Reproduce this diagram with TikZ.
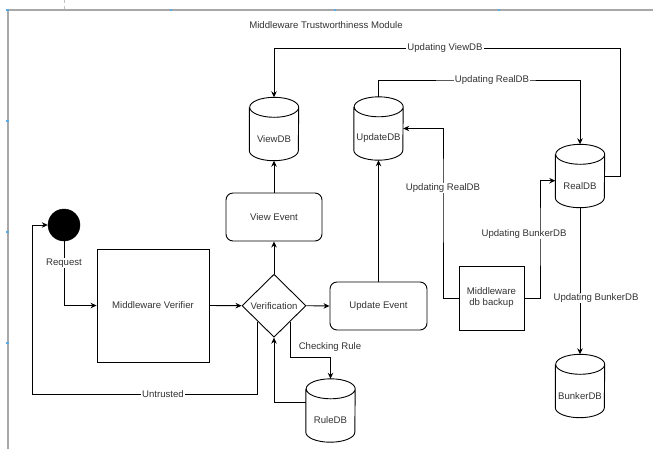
\documentclass[tikz,border=0pt]{standalone}
\usepackage{fontspec}
\setmainfont{Liberation Sans}
\usetikzlibrary{arrows.meta,calc,shapes.geometric}
\definecolor{txt}{HTML}{333333}
\definecolor{framegray}{HTML}{A8A8A8}
\definecolor{handle}{HTML}{5AAAE6}
\newcommand\dbnode[4]{%
  \node[dbbox] (#1) at (#2,#3) {};
  \draw[line] ($(#1.north west)+(0pt,-10pt)$) -- ($(#1.south west)+(0pt,10pt)$)
    arc[start angle=180,end angle=360,x radius=24.5pt,y radius=10pt]
    -- ($(#1.north east)+(0pt,-10pt)$)
    arc[start angle=0,end angle=180,x radius=24.5pt,y radius=10pt]
    arc[start angle=180,end angle=360,x radius=24.5pt,y radius=10pt];
  \node[dbtext] (#1-t) at ($(#1.center)+(0pt,-10pt)$) {#4};
}
\begin{document}
\begin{tikzpicture}[x=1pt,y=-1pt,
  every node/.style={font=\fontsize{9.6}{11}\selectfont, text=txt},
  line/.style={draw=black, line width=0.9pt},
  flow/.style={line, -{Stealth[length=6pt,width=5.5pt]}},
  plainbox/.style={line, rectangle, inner sep=0pt},
  eventbox/.style={line, rectangle, rounded corners=7pt, minimum height=48pt, inner sep=0pt},
  decision/.style={line, diamond, minimum width=64pt, minimum height=63pt, inner sep=0pt},
  startdot/.style={circle, fill=black, draw=black, minimum size=32pt, inner sep=0pt},
  dbbox/.style={rectangle, minimum width=49pt, minimum height=63pt, inner sep=0pt},
  dbtext/.style={inner sep=0pt},
  elab/.style={fill=white, inner sep=1pt},
  hnd/.style={fill=handle, draw=none, minimum size=2.5pt, inner sep=0pt, rectangle}
]
\useasboundingbox (0,0) rectangle (653,448);
\clip (0,0) rectangle (653,448);
\fill[white] (0,0) rectangle (653,448);
% frame
\draw[framegray!70, dashed, line width=0.6pt] (64,0) -- (64,10);
\draw[framegray, line width=2pt] (7.7,10) rectangle (662,454);
\foreach \hx/\hy [count=\i] in {7.7/10,171/10,335/10,499/10,7.7/121,7.7/232,7.7/343}
  \node[hnd] (h\i) at (\hx,\hy) {};
\node (title) at (326,25) {Middleware Trustworthiness Module};
% main nodes
\node[startdot] (req) at (64,225) {};
\node[plainbox, minimum width=112pt, minimum height=113pt] (verifier) at (153,305.5) {Middleware Verifier};
\node[decision] (verif) at (274,305.7) {Verification};
\node[eventbox, minimum width=96pt] (viewevent) at (274,217) {View Event};
\node[eventbox, minimum width=97pt] (updateevent) at (378.5,306) {Update Event};
\node[plainbox, minimum width=65pt, minimum height=64pt, align=center] (backup) at (491.5,298) {Middleware\\db backup};
\dbnode{viewdb}{274}{129}{ViewDB}
\dbnode{updatedb}{378.5}{128.5}{UpdateDB}
\dbnode{realdb}{580}{176}{RealDB}
\dbnode{bunkerdb}{580}{386}{BunkerDB}
\dbnode{ruledb}{330.5}{410.5}{RuleDB}
% helper coordinates
\coordinate (vsw) at ($(verif.west)!0.5!(verif.south)$);
\coordinate (vse) at ($(verif.east)!0.5!(verif.south)$);
\coordinate (ubl) at (32,394);
\coordinate (crk) at (330.5,357.3);
\coordinate (rv) at (620,48);
\coordinate (ur) at (492,80);
\coordinate (bu) at (443,188);
\coordinate (bb) at (540,234);
% connectors
\draw[flow] (req.south) |- (verifier.west);
\node[elab] (lreq) at (64,263) {Request};
\draw[flow] (verifier.east) -- (verif.west);
\draw[flow] (verif.east) -- (updateevent.west);
\draw[flow] (verif.north) -- (viewevent.south);
\draw[flow] (viewevent.north) -- (viewdb.south);
\draw[flow] (updateevent.north) -- (updatedb.south);
\draw[flow] (vsw) |- (ubl) |- (req.west);
\node[elab] (lunt) at (163,394) {Untrusted};
\draw[flow] (vse) |- (crk) -- (ruledb.north);
\node[elab] (lchk) at (330,347) {Checking Rule};
\draw[flow] ($(ruledb.west)+(0pt,8pt)$) -| (verif.south);
\draw[flow] (realdb.east) -| (rv) -| (viewdb.north);
\node[elab] (lview) at (445,48) {Updating ViewDB};
\draw[flow] (updatedb.north) |- (ur) -| (realdb.north);
\node[elab] (lreal1) at (ur) {Updating RealDB};
\draw[flow] (backup.west) -| (bu) |- (updatedb.east);
\node[elab] (lreal2) at (bu) {Updating RealDB};
\draw[flow] (backup.east) -| (bb) |- ($(realdb.west)+(0pt,-4.7pt)$);
\node[elab] (lbunk1) at (524,234) {Updating BunkerDB};
\draw[flow] (realdb.south) -- (bunkerdb.north);
\node[elab] (lbunk2) at (596,298) {Updating BunkerDB};
\end{tikzpicture}
\end{document}
